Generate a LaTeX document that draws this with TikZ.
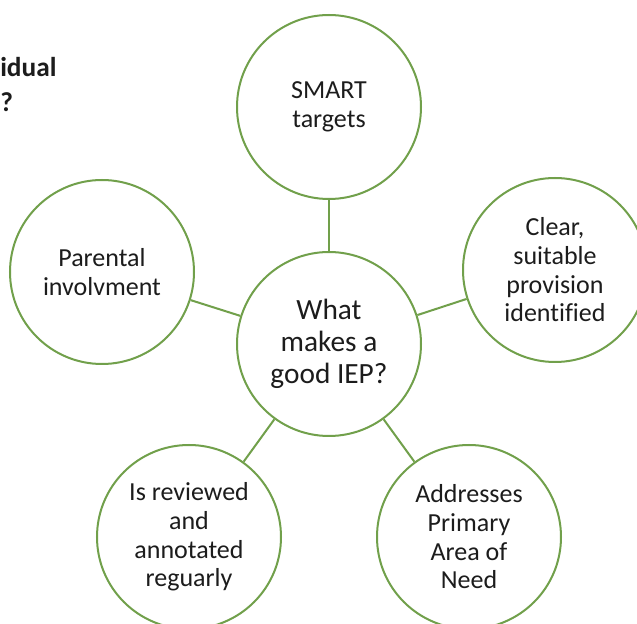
\documentclass[tikz,border=0pt]{standalone}
\usepackage{fontspec}
\setmainfont[Ligatures=NoCommon]{Carlito}
\usetikzlibrary{positioning}
\definecolor{leaf}{HTML}{71A04B}
\definecolor{ink}{HTML}{1C1C1C}

\begin{document}
\begin{tikzpicture}[x=0.75pt, y=-0.75pt,
    bubble/.style={circle, draw=leaf, line width=1.5pt, fill=white, minimum size=138pt, inner sep=0pt,
        align=center, text=ink, font=\fontsize{19.5}{21.5}\selectfont},
    link/.style={draw=leaf, line width=1.5pt}]
    \clip (0,0) rectangle (637,624);
    \fill[white] (0,0) rectangle (637,624);
    % heading cut off at the edge
    \node[anchor=north west, inner sep=0pt, align=left, text=ink, font=\fontsize{20.5}{26}\selectfont\bfseries] (head) at (0,57) {idual\\?};
    % the hub and its five ideas
    \node[bubble, font=\fontsize{22}{24}\selectfont] (iep) at (329,344) {What\\makes a\\good IEP?};
    \node[bubble] (smart) at (329,107) {SMART\\targets};
    \node[bubble] (parent) at (102,272) {Parental\\involvment};
    \node[bubble] (clear) at (555,270) {Clear,\\suitable\\provision\\identified};
    \node[bubble] (review) at (189,537) {Is reviewed\\and\\annotated\\reguarly};
    \node[bubble] (need) at (469,537) {Addresses\\Primary\\Area of\\Need};
    \draw[link] (iep) -- (smart);
    \draw[link] (iep) -- (parent);
    \draw[link] (iep) -- (clear);
    \draw[link] (iep) -- (review);
    \draw[link] (iep) -- (need);
\end{tikzpicture}
\end{document}
